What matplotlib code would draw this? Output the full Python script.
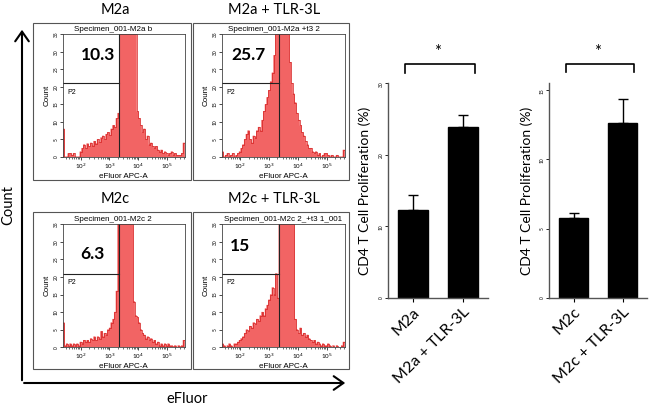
import numpy as np
import matplotlib
matplotlib.use('Agg')
import matplotlib.pyplot as plt
from matplotlib.patches import Rectangle, FancyArrowPatch, Polygon
from matplotlib.ticker import FixedLocator, LogLocator, NullFormatter
from matplotlib.transforms import ScaledTranslation

plt.rcParams['font.family'] = ['Lato', 'DejaVu Sans']

# ---- flow histograms: counts per log10 bin (bin width 0.06 starting at 10^1.37)
bin_start = 1.37
bin_width = 0.06

m2a_counts = [8, 0, 0, 1, 1, 0.5, 1, 0, 0, 0,
              1.5, 2.5, 3.5, 2.5, 3.8, 3, 4, 3.2, 4.5, 3.8,
              5, 4.2, 5.5, 6, 5, 6.5, 7, 6.2, 8, 9,
              8.5, 11, 12.5, 38, 52, 63, 70, 72, 66, 57,
              48, 40, 36, 13, 11, 9, 7, 8, 5, 6,
              3.5, 4, 3, 2.5, 3, 2, 1.5, 2, 1, 1.5,
              1, 0.5, 1, 1.5, 0.5, 1, 0.5, 0.5, 0.5, 1, 4]
m2a_tlr_counts = [1.5, 0, 0.5, 1, 0, 0.5, 1, 0, 0.5, 1,
                  1.5, 2.5, 3.5, 5, 6.5, 7.5, 5, 4, 6, 5.5,
                  7.5, 8.5, 7.5, 10.5, 13, 15, 17, 19, 21.5, 24,
                  29, 36, 45, 55, 62, 60, 52, 45, 38, 27,
                  21, 18, 15.5, 12.5, 10.5, 9, 7, 6, 4.5, 3.5,
                  2.5, 2.5, 1.5, 1, 1.5, 0.5, 1, 0, 0.5, 1,
                  1, 0.5, 0, 0.5, 0, 0, 0.5, 0, 0, 0, 2]
m2c_counts = [7, 0.5, 1, 0.5, 1, 0.5, 1, 0.5, 1, 0.5,
              1.5, 1, 2, 1.5, 2, 1.5, 2.5, 2, 3, 2,
              3, 2.5, 4.5, 3, 4, 3.5, 5, 5.5, 7, 8,
              10, 16, 38, 55, 68, 75, 72, 62, 50, 40,
              37, 13, 9, 8.5, 7, 5, 4, 3.5, 2.5, 3,
              2, 2.5, 1.5, 2, 1, 1.5, 0.5, 1, 0.5, 1,
              0.5, 1, 0.5, 0.5, 0, 0.5, 0, 0.5, 0, 0.5, 2]
m2c_tlr_counts = [1, 0.5, 0, 0.5, 1, 0.5, 0, 1, 1, 1.5,
                  2, 2.5, 3, 4, 5, 4.5, 6, 5.5, 7, 6.5,
                  8, 7.5, 9, 10, 9, 11, 12, 13.5, 15, 17,
                  15, 21, 14, 36, 58, 70, 75, 70, 60, 50,
                  42, 36, 8, 5, 4, 5.5, 3.5, 4, 3, 3.5,
                  2.5, 2, 1.5, 2, 1, 1.5, 1, 0.5, 1, 0.5,
                  0.5, 1, 0.5, 0, 0.5, 0, 0.5, 0, 0, 0.5, 1.5]

hist_titles = ['M2a', 'M2a + TLR-3L', 'M2c', 'M2c + TLR-3L']
specimen_names = ['Specimen_001-M2a b', 'Specimen_001-M2a +t3 2',
                  'Specimen_001-M2c 2', 'Specimen_001-M2c 2_+t3 1_001']
gate_pcts = ['10.3', '25.7', '6.3', '15']
pct_log_x = [2.59, 2.30, 2.42, 2.00]
pct_y = [29.2, 29.0, 26.5, 28.9]
gate_log = 3.34
gate_count = 21

# ---- bar charts
groups_a = ['M2a', 'M2a + TLR-3L']
means_a = [12.3, 23.9]
sem_a = [2.1, 1.6]
groups_c = ['M2c', 'M2c + TLR-3L']
means_c = [5.8, 12.6]
sem_c = [0.3, 1.75]

W, H = 649, 407
fig = plt.figure(figsize=(W / 100, H / 100), dpi=100)


def box(x0, y0, x1, y1):
    # pixel box (top-left origin) -> figure fraction [l, b, w, h]
    return [x0 / W, 1 - y1 / H, (x1 - x0) / W, (y1 - y0) / H]


red_fill = '#f26464'
red_edge = '#d42020'
edges = 10 ** (bin_start + bin_width * np.arange(len(m2a_counts) + 1))

all_counts = [m2a_counts, m2a_tlr_counts, m2c_counts, m2c_tlr_counts]
plot_boxes = [(62.7, 34.3, 185, 157), (221.7, 34.3, 345, 157),
              (62.7, 224.3, 185, 347.3), (221.7, 224.3, 345, 347.3)]
frame_boxes = [(33, 23, 191, 180), (193, 23, 349, 180),
               (33, 212, 191, 369), (193, 212, 349, 369)]
title_x = [0.41, 0.42, 0.41, 0.5]

for k in range(4):
    fb = frame_boxes[k]
    fig.add_artist(Rectangle((fb[0] / W, 1 - fb[3] / H), (fb[2] - fb[0]) / W,
                             (fb[3] - fb[1]) / H, transform=fig.transFigure,
                             fill=False, ec='#555555', lw=0.8))
    fig.text(((fb[0] + fb[2]) / 2 + 3) / W, 1 - (fb[1] - 13) / H, hist_titles[k],
             ha='center', va='center', fontsize=10.5)

    ax = fig.add_axes(box(*plot_boxes[k]))
    ax.set_xscale('log')
    # step outline of the histogram, kept inside the axis top
    cnt = np.minimum(np.array(all_counts[k], dtype=float), 35)
    sx = np.repeat(edges, 2)[1:-1]
    sy = np.repeat(cnt, 2)
    outline = np.column_stack([np.r_[edges[0], sx, edges[-1]], np.r_[0, sy, 0]])
    ax.add_patch(Polygon(outline, closed=True, facecolor=red_fill, edgecolor=red_fill,
                         lw=0.4, snap=False))
    ax.plot(sx, sy, color=red_edge, lw=0.5)
    ax.set_xlim(10 ** 1.37, 10 ** 5.64)
    ax.set_ylim(0, 35)
    ax.plot([10 ** gate_log, 10 ** gate_log], [0, 35], color='#222222', lw=0.8)
    ax.plot([10 ** 1.37, 10 ** gate_log], [gate_count, gate_count], color='#222222', lw=0.8)
    ax.text(10 ** pct_log_x[k], pct_y[k], gate_pcts[k], ha='center', va='center',
            fontsize=12.5, fontweight='bold')
    ax.text(0.035, (gate_count - 2.7) / 35, 'P2', transform=ax.transAxes,
            fontsize=5, family='Liberation Sans', va='center')
    ax.text(title_x[k], 1.01, specimen_names[k], transform=ax.transAxes,
            ha='center', va='bottom', fontsize=5.8, family='Liberation Sans')
    ax.xaxis.set_major_locator(FixedLocator([1e2, 1e3, 1e4, 1e5]))
    ax.set_xticklabels(['10$^2$', '10$^3$', '10$^4$', '10$^5$'])
    ax.xaxis.set_minor_locator(LogLocator(subs=np.arange(2, 10)))
    ax.xaxis.set_minor_formatter(NullFormatter())
    ax.set_yticks(np.arange(0, 36, 5))
    ax.tick_params(axis='x', which='major', labelsize=4.5, length=2.5, width=0.5, pad=1)
    ax.tick_params(axis='x', which='minor', length=1.5, width=0.4)
    ax.tick_params(axis='y', labelsize=3.5, length=2, width=0.5, pad=1, labelrotation=90)
    for lab in ax.get_yticklabels():
        lab.set_va('center')
    ax.set_ylabel('Count', fontsize=5.8, family='Liberation Sans', labelpad=2)
    ax.set_xlabel('eFluor APC-A', fontsize=5.8, family='Liberation Sans', labelpad=1)
    for s in ax.spines.values():
        s.set_color('#444444')
        s.set_linewidth(0.6)

# big axis arrows
fig.add_artist(FancyArrowPatch((22 / W, 1 - 383 / H), (22 / W, 1 - 27 / H),
                               transform=fig.transFigure, arrowstyle='->,head_length=0.5,head_width=0.35',
                               mutation_scale=14, lw=1.5, color='black'))
fig.add_artist(FancyArrowPatch((21.3 / W, 1 - 383 / H), (348 / W, 1 - 383 / H),
                               transform=fig.transFigure, arrowstyle='->,head_length=0.5,head_width=0.35',
                               mutation_scale=14, lw=1.5, color='black'))
fig.text(8 / W, 1 - 205 / H, 'Count', rotation=90, ha='center', va='center', fontsize=10.5)
fig.text(187 / W, 1 - 399 / H, 'eFluor', ha='center', va='center', fontsize=10.5)


def bar_panel(rect, groups, means, sems, ymax, yticks, bracket_y, star_y, label_x, shift):
    ax = fig.add_axes(rect)
    x = np.arange(len(groups))
    ax.bar(x, means, width=0.6, color='black', edgecolor='black')
    ax.errorbar(x, means, yerr=[[0] * len(sems), sems], fmt='none', ecolor='black',
                elinewidth=1, capsize=3.5, capthick=1)
    ax.set_xlim(-0.5, 1.5)
    ax.set_ylim(0, ymax)
    ax.set_yticks(yticks)
    ax.set_xticks(x)
    ax.set_xticklabels(groups, rotation=45, ha='right', va='top', rotation_mode='anchor',
                       fontsize=11.5)
    for lab in ax.get_xticklabels():
        lab.set_transform(lab.get_transform() + ScaledTranslation(shift / 100, 0, fig.dpi_scale_trans))
    ax.tick_params(axis='y', labelsize=3.5, length=2, width=0.6, pad=1, labelrotation=90)
    ax.tick_params(axis='x', length=3, width=0.8, pad=2)
    for s in ['top', 'right']:
        ax.spines[s].set_visible(False)
    for s in ['left', 'bottom']:
        ax.spines[s].set_color('#555555')
        ax.spines[s].set_linewidth(1)
    ax.set_ylabel('CD4 T Cell Proliferation (%)', fontsize=10)
    ax.yaxis.set_label_coords(label_x, 0.5)
    # significance bracket
    ax.plot([-0.16, -0.16, 1.24, 1.24], [bracket_y[0], bracket_y[1], bracket_y[1], bracket_y[0]],
            color='black', lw=1.2, clip_on=False)
    ax.text(0.5, star_y, '*', ha='center', va='center', fontsize=12, clip_on=False)
    return ax


bar_panel(box(388, 83, 488, 298), groups_a, means_a, sem_a, 30, [0, 10, 20, 30],
          (31.4, 32.6), 34.3, -0.17, 5)
bar_panel(box(549, 83, 647, 298), groups_c, means_c, sem_c, 15.5, [0, 5, 10, 15],
          (16.3, 16.9), 17.7, -0.165, 2)

fig.savefig('out.png', dpi=100)
